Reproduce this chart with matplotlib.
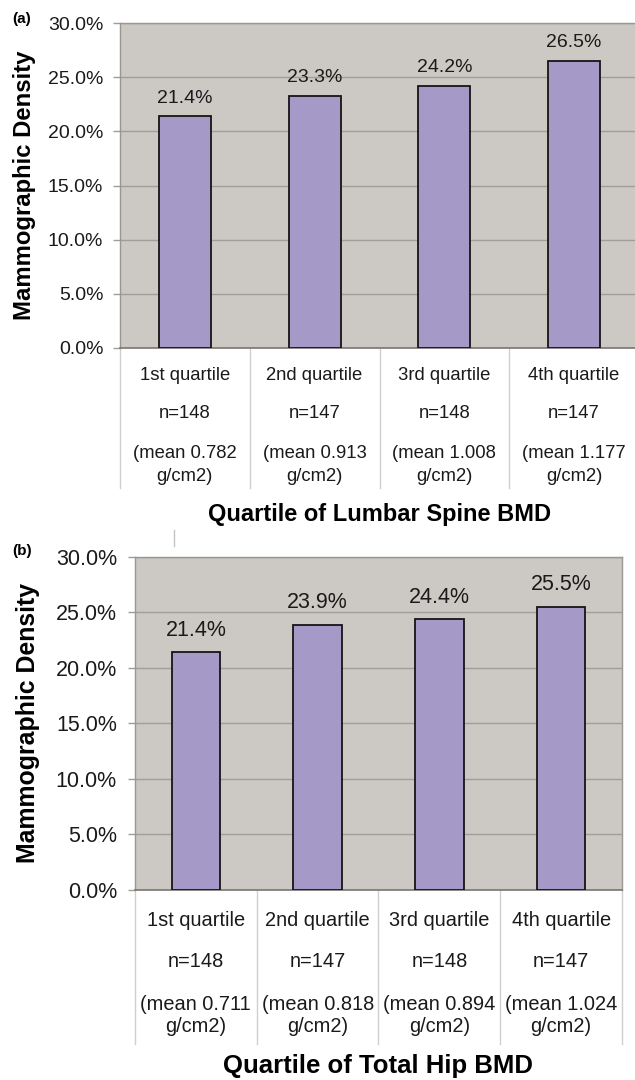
import matplotlib
matplotlib.use("Agg")
import matplotlib.pyplot as plt
import matplotlib.transforms as mtransforms

plt.rcParams["font.family"] = ["Liberation Sans", "DejaVu Sans"]

W, H = 635, 1080

categories = ["1st quartile", "2nd quartile", "3rd quartile", "4th quartile"]
y_ticks = [0, 5, 10, 15, 20, 25, 30]

spine_density = [21.4, 23.3, 24.2, 26.5]
spine_n = [148, 147, 148, 147]
spine_mean = ["0.782", "0.913", "1.008", "1.177"]

hip_density = [21.4, 23.9, 24.4, 25.5]
hip_n = [148, 147, 148, 147]
hip_mean = ["0.711", "0.818", "0.894", "1.024"]

BG = "#ccc8c4"
GRID = "#a19d99"
BAR = "#a599c7"
SEP = "#cfcfcf"


def draw_panel(fig, box, values, ns, means, xlabel, tag, fs):
    left, top, right, bottom = box
    h_px = bottom - top
    ax = fig.add_axes([left / W, 1 - bottom / H, (right - left) / W, h_px / H])
    ax.set_facecolor(BG)

    xs = list(range(len(categories)))
    ax.bar(xs, values, width=0.4, color=BAR, edgecolor="#151515", linewidth=1.3, zorder=3)

    for i, v in enumerate(values):
        ax.annotate(f"{v:.1f}%", (i, v), xytext=(0, fs["lab_off"]),
                    textcoords="offset pixels", ha="center", va="center",
                    fontsize=fs["bar"], color="#1a1a1a")

    ax.set_yticks(y_ticks)
    ax.set_yticklabels([f"{t:.1f}%" for t in y_ticks])
    ax.yaxis.grid(True, color=GRID, linewidth=1.0)
    ax.set_axisbelow(True)
    ax.set_xticks([])
    ax.tick_params(axis="y", length=fs["tick_len"], color=GRID, width=1.0,
                   labelsize=fs["tick"], pad=fs["pad"], labelcolor="#1a1a1a")
    for side in ["left", "top", "right"]:
        ax.spines[side].set_color("#9a9692")
        ax.spines[side].set_linewidth(1.0)
    ax.spines["bottom"].set_color("#7a7672")
    ax.spines["bottom"].set_linewidth(1.2)

    # table-like category labels under the axis
    trans = mtransforms.blended_transform_factory(ax.transData, ax.transAxes)

    def yf(px):
        return -px / h_px

    for b in [x - 0.5 for x in xs] + [xs[-1] + 0.5]:
        ax.plot([b, b], [0, yf(fs["sep"])], transform=trans, color=SEP,
                linewidth=1.0, clip_on=False)
    for i, cat in enumerate(categories):
        ax.text(i, yf(fs["rows"][0]), cat, transform=trans, ha="center",
                va="center", fontsize=fs["cat"], color="#1a1a1a")
        ax.text(i, yf(fs["rows"][1]), f"n={ns[i]}", transform=trans, ha="center",
                va="center", fontsize=fs["cat"], color="#1a1a1a")
        ax.text(i, yf(fs["rows"][2]), f"(mean {means[i]}", transform=trans,
                ha="center", va="center", fontsize=fs["cat"], color="#1a1a1a")
        ax.text(i, yf(fs["rows"][3]), "g/cm2)", transform=trans, ha="center",
                va="center", fontsize=fs["cat"], color="#1a1a1a")

    ax.set_xlabel(xlabel, fontsize=fs["xlabel"], fontweight="bold", va="center")
    ax.xaxis.set_label_coords(0.5, yf(fs["xlab_off"]))
    ax.set_ylabel("Mammographic Density", fontsize=fs["ylabel"], fontweight="bold",
                  va="center")
    ax.yaxis.set_label_coords(-(left - fs["ylab_x"]) / (right - left), 0.5)

    ax.set_xlim(-0.5, 3.5)
    ax.set_ylim(0, 30)

    fig.text(22 / W, 1 - fs["tag_y"] / H, tag, fontsize=11, fontweight="bold",
             ha="center", va="center")
    return ax


fig = plt.figure(figsize=(W / 100, H / 100), dpi=100)

sizes_a = dict(tick=14, bar=14, cat=13.3, xlabel=17, ylabel=17.2, lab_off=18,
               tick_len=5, pad=7, rows=[28, 66, 105, 128.5], sep=140,
               xlab_off=166, ylab_x=25, tag_y=19)
sizes_b = dict(tick=15.5, bar=15.5, cat=14.4, xlabel=18.5, ylabel=17.9, lab_off=22,
               tick_len=5, pad=8, rows=[31, 72, 115, 137], sep=154,
               xlab_off=177, ylab_x=28, tag_y=551)

draw_panel(fig, (120, 23, 639, 348), spine_density, spine_n, spine_mean,
           "Quartile of Lumbar Spine BMD", "(a)", sizes_a)
draw_panel(fig, (135, 557, 622, 889.5), hip_density, hip_n, hip_mean,
           "Quartile of Total Hip BMD", "(b)", sizes_b)

# small stray tick mark between the panels
fig.add_artist(plt.Line2D([174 / W, 174 / W], [1 - 530 / H, 1 - 546 / H],
                          color="#c4c4c4", linewidth=1.0))

fig.savefig("out.png", dpi=100)
